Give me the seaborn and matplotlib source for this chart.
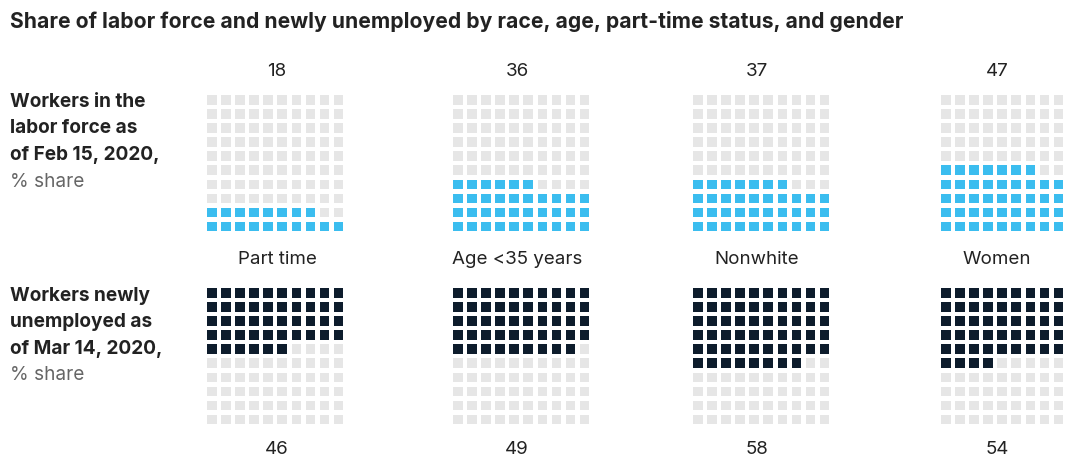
import numpy as np
import pandas as pd
import matplotlib.pyplot as plt
import seaborn as sns

# values (% share)
categories = ["Part time", "Age <35 years", "Nonwhite", "Women"]
labor_force = [18, 36, 37, 47]
newly_unemployed = [46, 49, 58, 54]

BLUE = "#3bbdef"
NAVY = "#0d1c2c"
GREY = "#e6e6e6"

sns.set_style("white")
plt.rcParams['font.family'] = ['Inter', 'DejaVu Sans']

W, H = 1067, 459
fig = plt.figure(figsize=(W / 100, H / 100), dpi=100)


def waffle_frame(value, from_bottom):
    idx = np.arange(100)
    row = idx // 10
    col = idx % 10
    if from_bottom:
        # fill starts at the bottom row, left to right
        order = (9 - row) * 10 + col
    else:
        order = row * 10 + col
    state = np.where(order < value, "filled", "empty")
    return pd.DataFrame({"row": row, "col": col, "state": state})


pitch = 14.1
grid_left = [204.7, 450.7, 690.7, 938.7]
top_y = 92.7
bottom_y = 285.7


def px_axes(left, top, w, h):
    return fig.add_axes([left / W, 1 - (top + h) / H, w / W, h / H])


for i, cat in enumerate(categories):
    for value, top, color, from_bottom in [
        (labor_force[i], top_y, BLUE, True),
        (newly_unemployed[i], bottom_y, NAVY, False),
    ]:
        ax = px_axes(grid_left[i], top, 10 * pitch, 10 * pitch)
        df = waffle_frame(value, from_bottom)
        sns.scatterplot(data=df, x="col", y="row", hue="state",
                        palette={"filled": color, "empty": GREY},
                        marker="s", s=(9.6 * 0.72) ** 2, linewidth=0,
                        legend=False, ax=ax, clip_on=False)
        ax.set_xlim(-0.5, 9.5)
        ax.set_ylim(9.5, -0.5)
        ax.axis("off")


def ptext(x, y, s, **kw):
    fig.text(x / W, 1 - y / H, s, va="center", **kw)


ptext(10, 21, "Share of labor force and newly unemployed by race, age, part-time status, and gender",
      fontsize=15.2, fontweight="bold", color="#222222")

label_x = [277, 517, 757, 997]
for i, cat in enumerate(categories):
    ptext(label_x[i], 71, str(labor_force[i]), ha="center", fontsize=13.5, color="#222222")
    ptext(label_x[i], 259, cat, ha="center", fontsize=13.5, color="#222222")
    ptext(label_x[i], 449, str(newly_unemployed[i]), ha="center", fontsize=13.5, color="#222222")

for y, s, bold in [(102, "Workers in the", True), (128, "labor force as", True),
                   (155, "of Feb 15, 2020,", True), (182, "% share", False),
                   (296, "Workers newly", True), (322, "unemployed as", True),
                   (349, "of Mar 14, 2020,", True), (375, "% share", False)]:
    ptext(10, y, s, fontsize=13.7, fontweight="bold" if bold else "normal",
          color="#222222" if bold else "#666666")

fig.savefig("out.png", dpi=100)
